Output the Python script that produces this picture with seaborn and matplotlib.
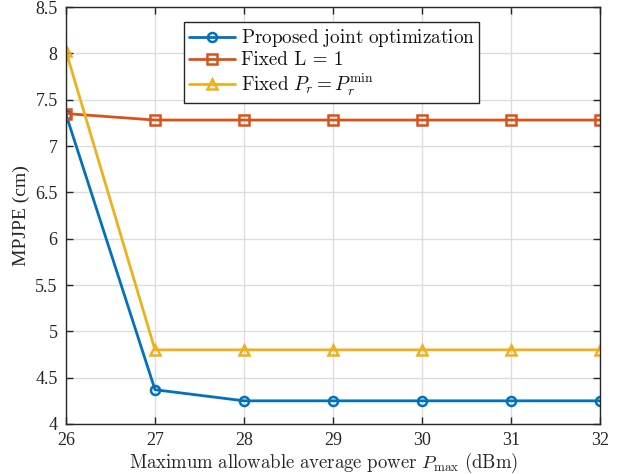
import matplotlib
matplotlib.use("Agg")
import matplotlib.pyplot as plt
import seaborn as sns
import pandas as pd

power = [26, 27, 28, 29, 30, 31, 32]
proposed = [7.34, 4.37, 4.25, 4.25, 4.25, 4.25, 4.25]
fixed_L = [7.35, 7.28, 7.28, 7.28, 7.28, 7.28, 7.28]
fixed_Pr = [8.02, 4.80, 4.80, 4.80, 4.80, 4.80, 4.80]

series_names = ["Proposed joint optimization", "Fixed L = 1",
                r"Fixed $P_r = P_r^{\mathrm{min}}$"]
legend_labels = [r"$\mathrm{Proposed\ joint\ optimization}$",
                 "Fixed L = 1",
                 r"$\mathrm{Fixed}\ P_r = P_r^{\mathrm{min}}$"]
colors = ["#0072BD", "#D95319", "#EDB120"]
markers = ["o", "s", "^"]

df = pd.DataFrame({
    "power": power * 3,
    "value": proposed + fixed_L + fixed_Pr,
    "series": [series_names[0]] * 7 + [series_names[1]] * 7 + [series_names[2]] * 7,
})

sns.set_theme(style="white")
plt.rcParams["mathtext.fontset"] = "cm"
plt.rcParams["font.family"] = ["Liberation Serif", "DejaVu Serif"]

fig = plt.figure(figsize=(6.24, 4.74), dpi=100)
ax = fig.add_axes([0.1058, 0.1055, 0.8557, 0.8797])

for name, lab, c, m in zip(series_names, legend_labels, colors, markers):
    sub = df[df["series"] == name]
    sns.lineplot(data=sub, x="power", y="value", ax=ax, color=c, marker=m,
                 markersize=6.5, markerfacecolor="none", markeredgecolor=c,
                 markeredgewidth=1.8, linewidth=2.0, label=lab)

ax.set_xlim(26, 32)
ax.set_ylim(4, 8.5)
ax.set_xticks(power)
ax.set_yticks([4, 4.5, 5, 5.5, 6, 6.5, 7, 7.5, 8, 8.5])
ax.set_yticklabels(["4", "4.5", "5", "5.5", "6", "6.5", "7", "7.5", "8", "8.5"])
ax.grid(True, color="#dddddd", linewidth=1.0)
ax.set_axisbelow(True)
for sp in ax.spines.values():
    sp.set_color("#262626")
    sp.set_linewidth(1.0)
    sp.set_visible(True)
ax.tick_params(direction="in", length=5, width=1.0, colors="#262626",
               labelsize=13, top=True, right=True, bottom=True, left=True,
               labelcolor="#262626")
ax.tick_params(axis="x", pad=6)
ax.tick_params(axis="y", pad=6)

ax.set_xlabel(r"$\mathrm{Maximum\ allowable\ average\ power}\ P_{\mathrm{max}}\ \mathrm{(dBm)}$",
              fontsize=13.5, color="#262626")
ax.xaxis.set_label_coords(0.482, -0.064)
ax.set_ylabel("MPJPE (cm)", fontsize=14, color="#262626", labelpad=4)

leg = ax.legend(loc="upper left", bbox_to_anchor=(0.221, 0.963), frameon=True,
                fancybox=False, edgecolor="#262626", framealpha=1,
                handlelength=2.4, handletextpad=0.3, borderpad=0.25,
                labelspacing=0.12, borderaxespad=0, fontsize=13.8)
leg.get_frame().set_linewidth(1.0)
for t in leg.get_texts():
    t.set_color("#111111")
    if t.get_text() == "Fixed L = 1":
        t.set_fontfamily(["cmr10", "DejaVu Serif"])

fig.savefig("out.png", dpi=100)
